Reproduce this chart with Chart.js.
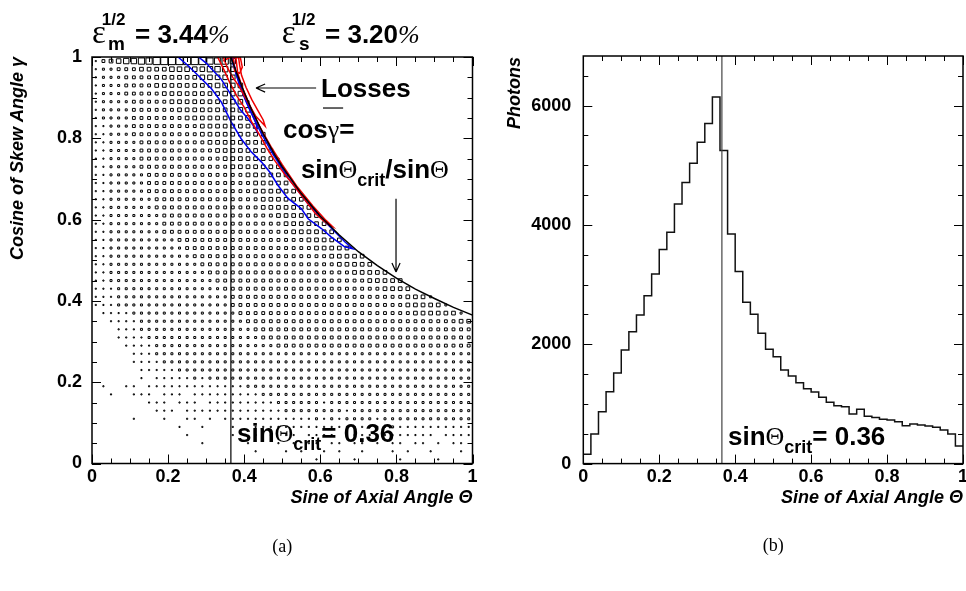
<!DOCTYPE html>
<html>
<head>
<meta charset="utf-8">
<script src="https://cdn.jsdelivr.net/npm/chart.js@4.4.0/dist/chart.umd.min.js"></script>
<style>
html, body { margin: 0; padding: 0; background: #fff; }
#wrap { position: relative; width: 966px; height: 591px; }
canvas { position: absolute; top: 0; }
</style>
</head>
<body>
<div id="wrap">
<canvas id="left" width="483" height="591" style="left:0"></canvas>
<canvas id="right" width="483" height="591" style="left:483px"></canvas>
</div>
<script>
// ---- (a) photon density in (sin axial angle, cos skew angle), 50 x 50 bins of 0.02
// one string per row, top row (cos 0.98-1.00) first, one digit per bin = content level
const skewRows = [
    "1345667788 888887776",
    "1223334444 555556665",
    "1222333344 444455555",
    "1222333344 4444445555",
    "1222333334 4444444555",
    "1222233333 4444444455 2",
    "1222233333 3444444445 5",
    "1222233333 3344444444 51",
    "1122233333 3333444444 45",
    "1122233333 3333444444 444",
    "1122223333 3333344444 444",
    "1122223333 3333334444 4444",
    "1122223333 3333333444 44441",
    "1122223333 3333333344 44444",
    "1122222333 3333333333 444444",
    "1122222333 3333333333 344444",
    "1122222333 3333333333 3444444",
    "1122222233 3333333333 33444444",
    "1122222233 3333333333 334444444",
    "1122222223 3333333333 3333444444",
    "1122222223 3333333333 3333344444 4",
    "1122222223 3333333333 3333334444 44",
    "1122222222 2333333333 3333333344 444",
    "1122222222 2233333333 3333333334 4444",
    "1122222222 2223333333 3333333333 344444",
    "1122222222 2222333333 3333333333 3344444",
    "1122222222 2222233333 3333333333 333344444",
    "1122222222 2222223333 3333333333 3333334444 4",
    "1112222222 2222222333 3333333333 3333333344 44",
    "1112222222 2222222233 3333333333 3333333333 34442",
    "1112222222 2222222233 3333333333 3333333333 3444442",
    "0111122222 2222222223 3333333333 3333333333 3344444420",
    "0011112222 2222222222 3333333333 3333333333 3333333344",
    "0001112222 2222222222 2333333333 3333333333 3333333333",
    "0001111222 2222222222 2233333333 3333333333 3333333333",
    "0000111122 2222222222 2222333333 3333333333 3333333333",
    "0000011122 2222222222 2222222222 2222222222 2222222222",
    "0000011112 2222222222 2222222222 2222222222 2222222222",
    "0000001111 1222222222 2222222222 2222222222 2222222222",
    "0000001011 1112122222 2222222222 2222222222 2222222222",
    "0100110111 1111111111 2222222222 2222222222 2222222222",
    "0010011101 1101111111 1122222222 2222222222 2222222222",
    "0000000111 0111011111 1111222222 1222222222 2222222222",
    "0000000011 1011111111 1111122222 2221222222 2222222222",
    "0000010001 0011010111 1111111112 1212222122 2222222222",
    "0000000000 0100100010 0111111111 1111111112 1111111111",
    "0000000000 0010000010 0101011011 1101111111 1111101111",
    "0000000000 0000100000 1000101011 0110110101 1011010110",
    "0000000000 0000000000 0100010100 1010010001 0100100010",
    "0000000000 0000000000 0000000001 0000100000 1000010000"
];
const binWidth = 0.02;
const sinThetaCrit = 0.365;
const unitTicks = [0, 0.2, 0.4, 0.6, 0.8, 1];

// contours of meridional (red) and skew (blue) loss regions, [sin, cos]
const blueOuter = [[0.226,1.0],[0.252,0.979],[0.287,0.947],[0.314,0.922],[0.340,0.889],[0.366,0.840],
    [0.392,0.799],[0.419,0.766],[0.445,0.742],[0.467,0.717],[0.489,0.684],[0.515,0.652],[0.550,0.627],
    [0.568,0.602],[0.603,0.578],[0.629,0.557],[0.664,0.533],[0.686,0.528],[0.665,0.545],[0.615,0.592],
    [0.565,0.642],[0.515,0.703],[0.475,0.762],[0.445,0.812],[0.415,0.87],[0.395,0.915],[0.381,0.952],
    [0.372,0.978],[0.366,1.0]];
const blueInner = [[0.28,1.0],[0.30,0.985],[0.32,0.965],[0.34,0.945],[0.36,0.915],[0.375,0.893],
    [0.39,0.87],[0.41,0.848],[0.425,0.83],[0.434,0.816],[0.432,0.835],[0.42,0.86],[0.405,0.89],
    [0.39,0.925],[0.378,0.96],[0.372,0.99],[0.37,1.0]];
const redOuter = [[0.33,1.0],[0.345,0.972],[0.363,0.935],[0.38,0.905],[0.399,0.878],[0.42,0.84],
    [0.443,0.804],[0.46,0.775],[0.479,0.747],[0.505,0.713],[0.533,0.681],[0.56,0.648],[0.587,0.615],
    [0.605,0.6],[0.623,0.587],[0.632,0.583],[0.615,0.598],[0.58,0.634],[0.54,0.68],[0.50,0.735],
    [0.47,0.78],[0.44,0.83],[0.415,0.88],[0.395,0.925],[0.383,0.96],[0.378,1.0]];
const redInner = [[0.345,1.0],[0.355,0.975],[0.37,0.95],[0.385,0.93],[0.40,0.905],[0.415,0.88],
    [0.43,0.855],[0.445,0.84],[0.455,0.83],[0.45,0.845],[0.435,0.87],[0.42,0.895],[0.405,0.925],
    [0.393,0.955],[0.388,0.98],[0.385,1.0]];
const redTop = [[0.345,0.99],[0.36,0.998],[0.39,0.998],[0.395,0.975],[0.388,0.96],[0.375,0.965],[0.372,0.995]];

// cos(gamma) = sin(theta_crit) / sin(theta)
const critCurveX = [0.365, 0.38, 0.40, 0.42, 0.45, 0.48, 0.50, 0.55, 0.60, 0.65, 0.70, 0.75, 0.80, 0.85, 0.90, 0.95, 1.0];
const critCurveY = [1.0, 0.961, 0.913, 0.869, 0.811, 0.760, 0.730, 0.664, 0.608, 0.562, 0.521, 0.487, 0.456, 0.429, 0.406, 0.384, 0.365];

// ---- (b) photons per bin of sin(theta), 50 bins of 0.02
const photonCounts = [156, 496, 870, 1206, 1519, 1904, 2211, 2491, 2814, 3178,
    3586, 3876, 4351, 4709, 5033, 5384, 5697, 6144, 5245, 3848,
    3217, 2703, 2502, 2183, 1915, 1792, 1569, 1468, 1356, 1256,
    1200, 1111, 1027, 971, 954, 831, 910, 793, 771, 742,
    731, 702, 635, 664, 647, 630, 608, 563, 496, 295];
const photonMax = 6830;
const photonTicks = [0, 2000, 4000, 6000];

const SANS = '"Liberation Sans", Arial, sans-serif';
const SERIF = '"Liberation Serif", "DejaVu Serif", serif';
const B26 = 'bold 26px ' + SANS;
const B18 = 'bold 18px ' + SANS;
const G26 = '26px ' + SERIF;
const TITLE = 'italic bold 18px ' + SANS;

// ---------- helpers
const boxPoints = [];
skewRows.forEach((row, r) => {
    const cells = row.replace(/ /g, '').padEnd(50, '0').slice(0, 50);
    const yc = 1 - binWidth * (r + 0.5);
    cells.split('').forEach((ch, i) => {
        const c = Number(ch);
        if (c > 0) boxPoints.push({ x: binWidth * (i + 0.5), y: yc, c: c });
    });
});

const toXY = pts => pts.map(p => ({ x: p[0], y: p[1] }));

function lineSet(data, color, width, order) {
    return {
        type: 'scatter', data: data, showLine: true, borderColor: color, borderWidth: width,
        pointRadius: 0, fill: false, order: order
    };
}

function frameTicks(cfg) {
    return {
        id: 'frameTicks',
        afterDraw(chart) {
            const { ctx, chartArea: a, scales: { x, y } } = chart;
            const isMajor = (v, m) => Math.abs(v / m - Math.round(v / m)) < 1e-6;
            ctx.save();
            ctx.strokeStyle = '#000';
            ctx.lineWidth = 1;
            ctx.beginPath();
            for (let k = 0; x.min + k * cfg.xMinor <= x.max + 1e-9; k++) {
                const v = x.min + k * cfg.xMinor;
                const p = Math.round(x.getPixelForValue(v)) + 0.5;
                const len = isMajor(v, cfg.xMajor) ? 9 : 5;
                ctx.moveTo(p, a.bottom); ctx.lineTo(p, a.bottom - len);
                ctx.moveTo(p, a.top); ctx.lineTo(p, a.top + len);
            }
            for (let k = 0; y.min + k * cfg.yMinor <= y.max + 1e-9; k++) {
                const v = y.min + k * cfg.yMinor;
                const p = Math.round(y.getPixelForValue(v)) + 0.5;
                const len = isMajor(v, cfg.yMajor) ? 9 : 5;
                ctx.moveTo(a.left, p); ctx.lineTo(a.left + len, p);
                ctx.moveTo(a.right, p); ctx.lineTo(a.right - len, p);
            }
            ctx.stroke();
            ctx.lineWidth = 1.5;
            ctx.strokeRect(a.left, a.top, a.right - a.left, a.bottom - a.top);
            ctx.restore();
        }
    };
}

// text pieces and arrows placed in data coordinates of the chart
function notes(items, arrows) {
    return {
        id: 'notes',
        afterDraw(chart) {
            const { ctx, scales: { x, y } } = chart;
            ctx.save();
            ctx.fillStyle = '#000';
            ctx.strokeStyle = '#000';
            ctx.textBaseline = 'alphabetic';
            items.forEach(it => {
                ctx.save();
                ctx.translate(x.getPixelForValue(it.x), y.getPixelForValue(it.y));
                if (it.rotate) ctx.rotate(it.rotate);
                const widths = it.runs.map(r => { ctx.font = r[1]; return ctx.measureText(r[0]).width; });
                const total = widths.reduce((s, w) => s + w, 0);
                let cx = it.align === 'right' ? -total : it.align === 'center' ? -total / 2 : 0;
                it.runs.forEach((r, k) => {
                    ctx.font = r[1];
                    ctx.fillText(r[0], cx, r[2] || 0);
                    cx += widths[k];
                });
                ctx.restore();
            });
            ctx.lineWidth = 1.2;
            arrows.forEach(ar => {
                const x0 = x.getPixelForValue(ar[0]), y0 = y.getPixelForValue(ar[1]);
                const x1 = x.getPixelForValue(ar[2]), y1 = y.getPixelForValue(ar[3]);
                ctx.beginPath();
                ctx.moveTo(x0, y0); ctx.lineTo(x1, y1);
                if (ar[4]) {
                    const ang = Math.atan2(y1 - y0, x1 - x0);
                    for (const s of [-1, 1]) {
                        ctx.moveTo(x1, y1);
                        ctx.lineTo(x1 - 10 * Math.cos(ang + s * 0.42), y1 - 10 * Math.sin(ang + s * 0.42));
                    }
                }
                ctx.stroke();
            });
            ctx.restore();
        }
    };
}

const tickFont = { family: SANS, size: 18, weight: 'bold' };

function axisScales(yMax, yTicks, yPad) {
    return {
        x: {
            type: 'linear', position: 'bottom', min: 0, max: 1,
            grid: { display: false, drawTicks: false }, border: { display: false },
            ticks: { font: tickFont, color: '#000', padding: 3, maxRotation: 0, autoSkip: false,
                callback: v => String(v) },
            afterBuildTicks: s => { s.ticks = unitTicks.map(v => ({ value: v })); },
            afterFit: s => { s.height = 30; s.paddingLeft = 0; s.paddingRight = 0; }
        },
        y: {
            type: 'linear', position: 'left', min: 0, max: yMax,
            grid: { display: false, drawTicks: false }, border: { display: false },
            ticks: { font: tickFont, color: '#000', padding: yPad, autoSkip: false,
                callback: v => String(v) },
            afterBuildTicks: s => { s.ticks = yTicks.map(v => ({ value: v })); },
            afterFit: s => { s.width = 60; s.paddingTop = 0; s.paddingBottom = 0; }
        }
    };
}

// ---------- (a)
const critSin = [['sin', B26], ['\u0398', G26], ['crit', B18, 8]];
new Chart(document.getElementById('left'), {
    type: 'scatter',
    data: {
        datasets: [
            lineSet([{ x: sinThetaCrit, y: 0 }, { x: sinThetaCrit, y: 1 }], '#000', 1.2, 1),
            lineSet(critCurveX.map((v, i) => ({ x: v, y: critCurveY[i] })), '#000', 1.5, 2),
            lineSet(toXY(redOuter), '#ee0000', 1.5, 3),
            lineSet(toXY(redInner), '#ee0000', 1.5, 3),
            lineSet(toXY(redTop), '#ee0000', 1.5, 3),
            lineSet(toXY(blueOuter), '#0000ee', 1.5, 4),
            lineSet(toXY(blueInner), '#0000ee', 1.5, 4),
            {
                type: 'scatter', data: boxPoints, order: 10,
                pointStyle: 'rect', borderColor: '#000', backgroundColor: 'rgba(0,0,0,0)', borderWidth: 1,
                pointRadius: ctx => (0.85 * ctx.raw.c + 0.3) / Math.SQRT2
            }
        ]
    },
    options: {
        responsive: false, animation: false,
        layout: { padding: { left: 32, right: 10.5, top: 57, bottom: 97.5 } },
        plugins: { legend: { display: false }, tooltip: { enabled: false } },
        scales: axisScales(1, unitTicks, 10)
    },
    plugins: [
        frameTicks({ xMinor: 0.05, xMajor: 0.2, yMinor: 0.05, yMajor: 0.2 }),
        notes([
            { x: 0.0, y: 1.035, runs: [['\u03b5', '33px ' + SERIF]] },
            { x: 0.0255, y: 1.079, runs: [['1/2', 'bold 17px ' + SANS]] },
            { x: 0.042, y: 1.017, runs: [['m', 'bold 19px ' + SANS]] },
            { x: 0.113, y: 1.035, runs: [['= 3.44', 'bold 26px ' + SANS], ['%', 'italic 26px ' + SERIF]] },
            { x: 0.4985, y: 1.035, runs: [['\u03b5', '33px ' + SERIF]] },
            { x: 0.525, y: 1.079, runs: [['1/2', 'bold 17px ' + SANS]] },
            { x: 0.544, y: 1.017, runs: [['s', 'bold 19px ' + SANS]] },
            { x: 0.6124, y: 1.035, runs: [['= 3.20', 'bold 26px ' + SANS], ['%', 'italic 26px ' + SERIF]] },
            { x: 0.602, y: 0.9016, runs: [['Losses', B26]] },
            { x: 0.502, y: 0.8007, runs: [['cos', B26], ['\u03b3', G26], ['=', B26]] },
            { x: 0.549, y: 0.7023, runs: critSin.concat([['/sin', B26], ['\u0398', G26]]) },
            { x: 0.381, y: 0.0529, runs: critSin.concat([['= 0.36', B26]]) },
            { x: 1.0, y: -0.0972, align: 'right', runs: [['Sine of Axial Angle \u0398', TITLE]] },
            { x: -0.1813, y: 1.0, align: 'right', rotate: -Math.PI / 2, runs: [['Cosine of Skew Angle \u03b3', TITLE]] },
            { x: 0.5, y: -0.2177, align: 'center', runs: [['(a)', '18px ' + SERIF]] }
        ], [
            [0.589, 0.9237, 0.431, 0.9237, true],
            [0.799, 0.651, 0.799, 0.471, true],
            [0.607, 0.8745, 0.660, 0.8745, false]
        ])
    ]
});

// ---------- (b)
const binEdges = photonCounts.map((v, i) => i * binWidth).concat([1]);
const histPoints = binEdges.map((e, i) => ({ x: e, y: photonCounts[Math.min(i, photonCounts.length - 1)] }));

new Chart(document.getElementById('right'), {
    type: 'scatter',
    data: {
        datasets: [
            lineSet([{ x: sinThetaCrit, y: 0 }, { x: sinThetaCrit, y: photonMax }], '#444', 1.2, 1),
            Object.assign(lineSet(histPoints, '#111', 1.5, 2), { stepped: 'before' })
        ]
    },
    options: {
        responsive: false, animation: false,
        layout: { padding: { left: 40.3, right: 3, top: 56, bottom: 97.4 } },
        plugins: { legend: { display: false }, tooltip: { enabled: false } },
        scales: axisScales(photonMax, photonTicks, 12)
    },
    plugins: [
        frameTicks({ xMinor: 0.05, xMajor: 0.2, yMinor: 500, yMajor: 2000 }),
        notes([
            { x: 0.381, y: 312, runs: critSin.concat([['= 0.36', B26]]) },
            { x: 1.0, y: -660, align: 'right', runs: [['Sine of Axial Angle \u0398', TITLE]] },
            { x: -0.1667, y: 6815, align: 'right', rotate: -Math.PI / 2, runs: [['Photons', TITLE]] },
            { x: 0.5, y: -1465, align: 'center', runs: [['(b)', '18px ' + SERIF]] }
        ], [])
    ]
});
</script>
</body>
</html>
